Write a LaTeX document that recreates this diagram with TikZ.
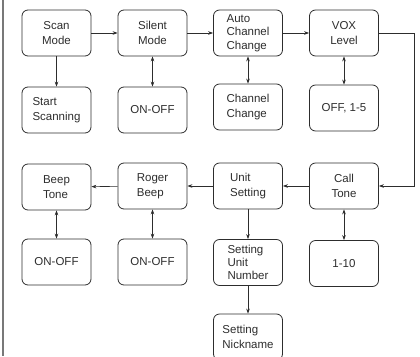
\documentclass[tikz,border=0pt]{standalone}
\usepackage{fontspec}
\setmainfont{Liberation Sans}
\usetikzlibrary{arrows.meta}
\definecolor{ink}{RGB}{45,45,45}
\definecolor{rule}{RGB}{120,120,120}
\tikzset{
  box/.style={draw=ink, line width=0.8pt, rounded corners=6pt, minimum width=69pt, minimum height=46pt, inner sep=0pt, text=ink, font=\fontsize{11.5}{15}\selectfont},
  lbox/.style={box, align=left},
  cbox/.style={box, align=center},
  tbox/.style={box, align=left, font=\fontsize{11.5}{13.3}\selectfont},
  conn/.style={draw=ink, line width=0.6pt, -{Stealth[length=5pt,width=3.6pt]}},
  bconn/.style={draw=ink, line width=0.6pt, {Stealth[length=5pt,width=3.6pt]}-{Stealth[length=5pt,width=3.6pt]}}
}
\begin{document}
\begin{tikzpicture}[x=1pt,y=-1pt]
\useasboundingbox (0,0) rectangle (420,356);
\begin{scope}
\clip (0,0) rectangle (420,356);
\draw[rule, line width=1.6pt] (3,0) -- (3,356);
% row 1
\node[cbox] (scan) at (56.5,33) {Scan\\Mode};
\node[cbox] (silent) at (152.5,33) {Silent\\Mode};
\node[tbox] (auto) at (248,33) {Auto\\Channel\\Change};
\node[cbox] (vox) at (344,33) {VOX\\Level};
% row 2
\node[lbox] (start) at (56.5,110) {Start\\Scanning};
\node[cbox] (onoff1) at (152.5,110) {ON-OFF};
\node[lbox] (chch) at (248,107) {Channel\\Change};
\node[cbox] (off15) at (344,108) {OFF, 1-5};
% row 3
\node[lbox] (beep) at (56.5,187) {Beep\\Tone};
\node[lbox] (roger) at (152.5,186) {Roger\\Beep};
\node[lbox] (unit) at (248,186) {Unit\\Setting};
\node[cbox] (call) at (344,186) {Call\\Tone};
% row 4
\node[cbox] (onoff2) at (56.5,262) {ON-OFF};
\node[cbox] (onoff3) at (152.5,262) {ON-OFF};
\node[tbox] (sun) at (248,262.5) {Setting\\Unit\\Number};
\node[cbox] (one10) at (344,263.5) {1-10};
% row 5
\node[lbox] (nick) at (248,337) {Setting\\Nickname};
% connectors
\draw[conn] (scan) -- (silent);
\draw[conn] (silent) -- (auto);
\draw[conn] (auto) -- (vox);
\draw[conn] (scan) -- (start);
\draw[bconn] (silent) -- (onoff1);
\draw[bconn] (auto) -- (chch);
\draw[bconn] (vox) -- (off15);
\coordinate (c1) at (414,33);
\coordinate (c2) at (414,186);
\draw[conn] (vox.east) -- (c1) -- (c2) -- (call.east);
\draw[conn] (call) -- (unit);
\draw[conn] (unit) -- (roger);
\draw[conn] (roger) -- (beep);
\draw[bconn] (beep) -- (onoff2);
\draw[bconn] (roger) -- (onoff3);
\draw[conn] (unit) -- (sun);
\draw[bconn] (call) -- (one10);
\draw[conn] (sun) -- (nick);
\end{scope}
\end{tikzpicture}
\end{document}
